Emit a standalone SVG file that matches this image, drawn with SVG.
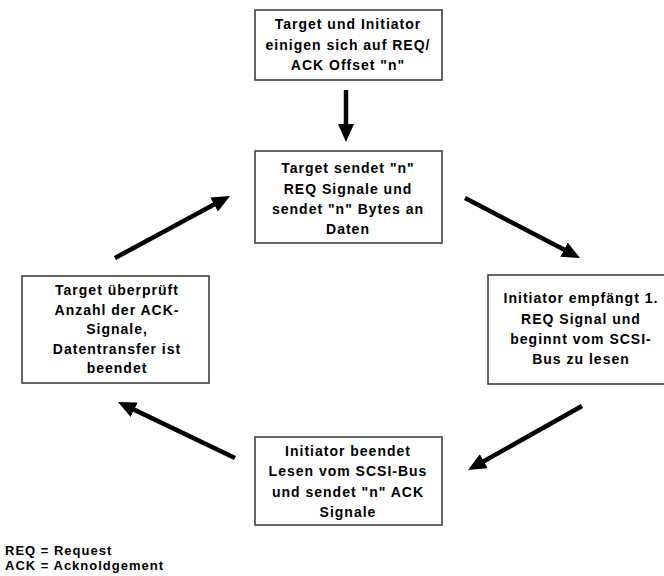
<svg xmlns="http://www.w3.org/2000/svg" width="664" height="576" viewBox="0 0 664 576">
  <style>
    .box { fill: #ffffff; stroke: #404040; stroke-width: 1.6; }
    .lbl { font-family: "Liberation Sans", Arial, sans-serif; font-weight: bold; font-size: 14px; letter-spacing: 1px; fill: #000000; text-anchor: middle; }
    .leg { font-family: "Liberation Sans", Arial, sans-serif; font-weight: bold; font-size: 13px; letter-spacing: 1px; fill: #000000; }
    .arrow { stroke: #000000; stroke-width: 4.5; fill: none; marker-end: url(#head); }
  </style>
  <defs>
    <marker id="head" markerUnits="userSpaceOnUse" markerWidth="18" markerHeight="16" viewBox="0 0 18 16" refX="2" refY="8" orient="auto">
      <path d="M0,0 L18,8 L0,16 z" fill="#000000"/>
    </marker>
  </defs>
  <rect width="664" height="576" fill="#ffffff"/>

  <g id="offset">
    <rect class="box" x="255" y="10" width="187" height="70"/>
    <text class="lbl" x="348" y="29">Target und Initiator</text>
    <text class="lbl" x="348" y="49.5">einigen sich auf REQ/</text>
    <text class="lbl" x="348" y="70">ACK Offset "n"</text>
  </g>

  <g id="target-send">
    <rect class="box" x="255" y="151" width="187" height="92"/>
    <text class="lbl" x="348" y="173">Target sendet "n"</text>
    <text class="lbl" x="348" y="193.5">REQ Signale und</text>
    <text class="lbl" x="348" y="214">sendet "n" Bytes an</text>
    <text class="lbl" x="348" y="234">Daten</text>
  </g>

  <g id="initiator-read">
    <rect class="box" x="488" y="275" width="200" height="109"/>
    <text class="lbl" x="581" y="303">Initiator empfängt 1.</text>
    <text class="lbl" x="581" y="323.5">REQ Signal und</text>
    <text class="lbl" x="581" y="344">beginnt vom SCSI-</text>
    <text class="lbl" x="581" y="364">Bus zu lesen</text>
  </g>

  <g id="initiator-ack">
    <rect class="box" x="255" y="437" width="187" height="88"/>
    <text class="lbl" x="348" y="456">Initiator beendet</text>
    <text class="lbl" x="348" y="476">Lesen vom SCSI-Bus</text>
    <text class="lbl" x="348" y="497">und sendet "n" ACK</text>
    <text class="lbl" x="348" y="517">Signale</text>
  </g>

  <g id="target-check">
    <rect class="box" x="22" y="276" width="187" height="107"/>
    <text class="lbl" x="117" y="295">Target überprüft</text>
    <text class="lbl" x="117" y="314.5">Anzahl der ACK-</text>
    <text class="lbl" x="117" y="334">Signale,</text>
    <text class="lbl" x="117" y="353.5">Datentransfer ist</text>
    <text class="lbl" x="117" y="373">beendet</text>
  </g>

  <g id="connectors">
    <line class="arrow" x1="346" y1="90" x2="346" y2="126"/>
    <line class="arrow" x1="465" y1="198" x2="565.8" y2="250.6"/>
    <line class="arrow" x1="582" y1="406" x2="482" y2="462.2"/>
    <line class="arrow" x1="235" y1="458" x2="132.4" y2="408.9"/>
    <line class="arrow" x1="115" y1="258" x2="215.9" y2="203.6"/>
  </g>

  <g id="legend">
    <text class="leg" x="5" y="555">REQ = Request</text>
    <text class="leg" x="5" y="570">ACK = Acknoldgement</text>
  </g>
</svg>
